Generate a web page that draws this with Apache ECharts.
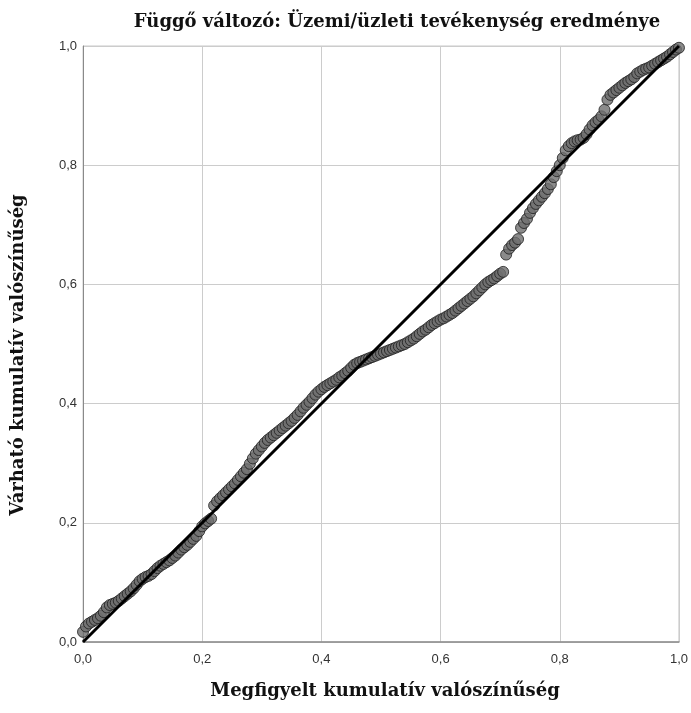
<!DOCTYPE html>
<html>
<head>
<meta charset="utf-8">
<script src="https://cdn.jsdelivr.net/npm/echarts@6/dist/echarts.min.js"></script>
<style>
  html, body { margin: 0; padding: 0; background: #fff; }
  #chart { width: 691px; height: 713px; }
</style>
</head>
<body>
<div id="chart"></div>
<script>
const observed = [
  0.000, 0.005, 0.010, 0.015, 0.020, 0.025, 0.030, 0.035, 0.040, 0.045,
  0.050, 0.055, 0.060, 0.065, 0.070, 0.075, 0.080, 0.085, 0.090, 0.095,
  0.100, 0.105, 0.110, 0.115, 0.120, 0.125, 0.130, 0.135, 0.140, 0.145,
  0.150, 0.155, 0.160, 0.165, 0.170, 0.175, 0.180, 0.185, 0.190, 0.195,
  0.200, 0.205, 0.210, 0.215, 0.220, 0.225, 0.230, 0.235, 0.240, 0.245,
  0.250, 0.255, 0.260, 0.265, 0.270, 0.275, 0.280, 0.285, 0.290, 0.295,
  0.300, 0.305, 0.310, 0.315, 0.320, 0.325, 0.330, 0.335, 0.340, 0.345,
  0.350, 0.355, 0.360, 0.365, 0.370, 0.375, 0.380, 0.385, 0.390, 0.395,
  0.400, 0.405, 0.410, 0.415, 0.420, 0.425, 0.430, 0.435, 0.440, 0.445,
  0.450, 0.455, 0.460, 0.465, 0.470, 0.475, 0.480, 0.485, 0.490, 0.495,
  0.500, 0.505, 0.510, 0.515, 0.520, 0.525, 0.530, 0.535, 0.540, 0.545,
  0.550, 0.555, 0.560, 0.565, 0.570, 0.575, 0.580, 0.585, 0.590, 0.595,
  0.600, 0.605, 0.610, 0.615, 0.620, 0.625, 0.630, 0.635, 0.640, 0.645,
  0.650, 0.655, 0.660, 0.665, 0.670, 0.675, 0.680, 0.685, 0.690, 0.695,
  0.700, 0.705, 0.710, 0.715, 0.720, 0.725, 0.730, 0.735, 0.740, 0.745,
  0.750, 0.755, 0.760, 0.765, 0.770, 0.775, 0.780, 0.785, 0.790, 0.795,
  0.800, 0.805, 0.810, 0.815, 0.820, 0.825, 0.830, 0.835, 0.840, 0.845,
  0.850, 0.855, 0.860, 0.865, 0.870, 0.875, 0.880, 0.885, 0.890, 0.895,
  0.900, 0.905, 0.910, 0.915, 0.920, 0.925, 0.930, 0.935, 0.940, 0.945,
  0.950, 0.955, 0.960, 0.965, 0.970, 0.975, 0.980, 0.985, 0.990, 0.995,
  1.000
];
const expected = [
  0.017, 0.026, 0.031, 0.034, 0.037, 0.040, 0.044, 0.050, 0.058, 0.062,
  0.064, 0.066, 0.069, 0.073, 0.077, 0.081, 0.085, 0.090, 0.096, 0.102,
  0.106, 0.109, 0.111, 0.114, 0.119, 0.124, 0.128, 0.131, 0.134, 0.137,
  0.141, 0.145, 0.150, 0.155, 0.159, 0.163, 0.168, 0.173, 0.178, 0.186,
  0.194, 0.199, 0.203, 0.207, 0.229, 0.236, 0.241, 0.246, 0.251, 0.256,
  0.261, 0.266, 0.272, 0.278, 0.284, 0.290, 0.299, 0.308, 0.316, 0.322,
  0.328, 0.334, 0.339, 0.343, 0.347, 0.351, 0.355, 0.359, 0.363, 0.367,
  0.371, 0.376, 0.381, 0.387, 0.393, 0.398, 0.403, 0.409, 0.415, 0.420,
  0.424, 0.428, 0.431, 0.434, 0.437, 0.440, 0.444, 0.447, 0.451, 0.455,
  0.460, 0.465, 0.468, 0.470, 0.472, 0.474, 0.476, 0.478, 0.480, 0.482,
  0.484, 0.486, 0.488, 0.490, 0.492, 0.494, 0.496, 0.498, 0.500, 0.503,
  0.506, 0.509, 0.513, 0.517, 0.521, 0.524, 0.528, 0.532, 0.535, 0.538,
  0.541, 0.543, 0.546, 0.549, 0.552, 0.556, 0.560, 0.564, 0.568, 0.572,
  0.576, 0.580, 0.585, 0.590, 0.595, 0.600, 0.604, 0.607, 0.610, 0.614,
  0.618, 0.621, 0.650, 0.660, 0.666, 0.670, 0.676, 0.695, 0.703, 0.710,
  0.720, 0.728, 0.735, 0.741, 0.747, 0.753, 0.760, 0.768, 0.780, 0.790,
  0.800, 0.812, 0.825, 0.832, 0.837, 0.840, 0.842, 0.843, 0.846, 0.852,
  0.860, 0.867, 0.872, 0.876, 0.882, 0.893, 0.910, 0.918, 0.922, 0.926,
  0.930, 0.934, 0.938, 0.941, 0.944, 0.948, 0.954, 0.957, 0.960, 0.962,
  0.964, 0.967, 0.970, 0.973, 0.976, 0.979, 0.982, 0.986, 0.990, 0.994,
  0.997
];
const refLine = [[0, 0], [1, 1]];

const points = observed.map((x, i) => [x, expected[i]]);
const fmt = (v) => v.toFixed(1).replace('.', ',');

const chart = echarts.init(document.getElementById('chart'));

const serifBold = { fontFamily: 'DejaVu Serif', fontWeight: 'bold', fontSize: 18, color: '#111' };

const option = {
  animation: false,
  backgroundColor: '#ffffff',
  title: {
    text: 'Függő változó: Üzemi/üzleti tevékenység eredménye',
    left: 392,
    textAlign: 'center',
    top: 8,
    textStyle: serifBold
  },
  grid: { left: 83, right: 11, top: 46, bottom: 71, show: true, borderColor: '#c8c8c8', borderWidth: 1 },
  xAxis: {
    type: 'value',
    min: 0,
    max: 1,
    interval: 0.2,
    name: 'Megfigyelt kumulatív valószínűség',
    nameLocation: 'middle',
    nameGap: 40,
    nameTextStyle: Object.assign({ padding: [0, 0, 0, 8] }, serifBold),
    axisLine: { lineStyle: { color: '#8a8a8a', width: 1.5 } },
    axisTick: { show: false },
    splitLine: { lineStyle: { color: '#cccccc', width: 1 } },
    axisLabel: { formatter: fmt, color: '#333', fontFamily: 'Liberation Sans', fontSize: 13, margin: 11 }
  },
  yAxis: {
    type: 'value',
    min: 0,
    max: 1,
    interval: 0.2,
    name: 'Várható kumulatív valószínűség',
    nameLocation: 'middle',
    nameGap: 56,
    nameTextStyle: Object.assign({ padding: [0, 22, 0, 0] }, serifBold),
    axisLine: { show: true, lineStyle: { color: '#8a8a8a', width: 1 } },
    axisTick: { show: false },
    splitLine: { lineStyle: { color: '#cccccc', width: 1 } },
    axisLabel: { formatter: fmt, color: '#333', fontFamily: 'Liberation Sans', fontSize: 13, margin: 6 }
  },
  series: [
    {
      type: 'scatter',
      data: points,
      symbolSize: 11,
      itemStyle: { color: '#6e6e6e', borderColor: '#1e1e1e', borderWidth: 1 },
      z: 2
    },
    {
      type: 'line',
      data: refLine,
      symbol: 'none',
      lineStyle: { color: '#000', width: 3 },
      z: 3
    }
  ]
};

chart.setOption(option);
</script>
</body>
</html>
